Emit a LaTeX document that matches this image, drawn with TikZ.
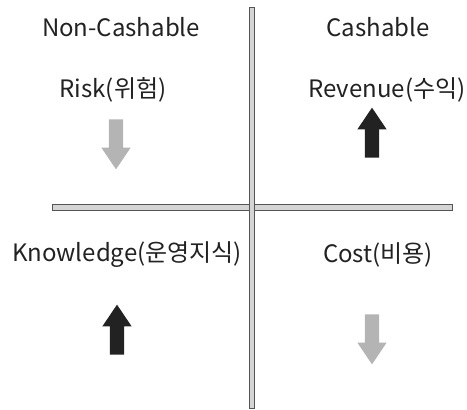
\documentclass[tikz,border=0pt]{standalone}
\usepackage{fontspec}
\setmainfont{Noto Sans CJK KR}
\usetikzlibrary{shapes.arrows}

\definecolor{inkgray}{HTML}{222222}
\definecolor{fadegray}{HTML}{B4B4B4}
\definecolor{barline}{HTML}{555555}
\definecolor{barfill}{HTML}{D4D4D4}

\tikzset{
  quadlabel/.style={font=\fontsize{24}{28}\selectfont, text=inkgray, inner sep=0pt},
  trend/.style={single arrow, draw=none, inner sep=7pt, minimum height=50pt,
    single arrow head extend=7.5pt, single arrow tip angle=68},
  rise/.style={trend, fill=inkgray, shape border rotate=90},
  fall/.style={trend, fill=fadegray, shape border rotate=270},
  bar/.style={draw=barline, fill=barfill, line width=0.9pt}
}

\begin{document}
\begin{tikzpicture}[x=1pt,y=-1pt]
  \useasboundingbox[fill=white] (0,0) rectangle (467,410);

  % axes
  \draw[bar] (52,204) rectangle (452,210);
  \draw[bar] (249,7) rectangle (254,408);

  % column heads
  \node[quadlabel](noncash) at (121,27){Non-Cashable};
  \node[quadlabel](cash) at (378,27){Cashable};

  % quadrants
  \node[quadlabel](risk) at (113,90){Risk(위험)};
  \node[quadlabel](revenue) at (387,90){Revenue(수익)};
  \node[quadlabel](knowledge) at (127,255){Knowledge(운영지식)};
  \node[quadlabel](cost) at (378,255){Cost(비용)};

  \node[fall](riskarrow) at (116,139){};
  \node[rise](revenuearrow) at (372,138){};
  \node[rise](knowledgearrow) at (117,335){};
  \node[fall](costarrow) at (372,334){};
\end{tikzpicture}
\end{document}
